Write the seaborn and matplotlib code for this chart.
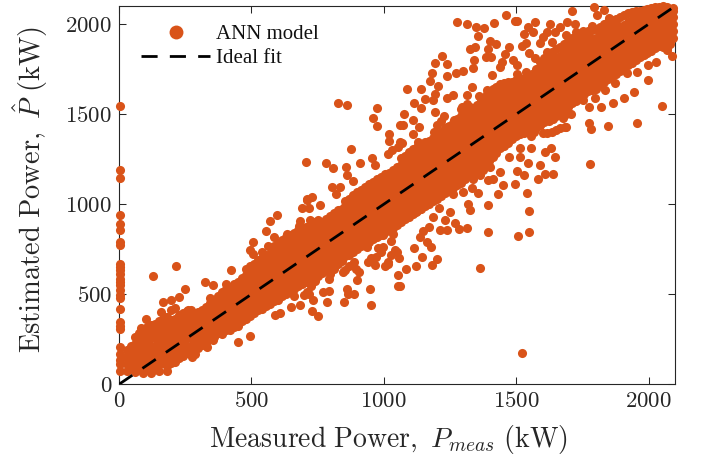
import numpy as np
import matplotlib
matplotlib.use("Agg")
import matplotlib.pyplot as plt
from matplotlib.lines import Line2D
from matplotlib.ticker import FuncFormatter
import seaborn as sns

# Measured / estimated power in kW
core_x = [30,60,90,120,150,180,210,240,270,300,330,360,390,420,450,480,510,540,570,600,
          630,660,690,720,750,780,810,840,870,900,930,960,990,1020,1050,1080,1110,1140,1170,1200,
          1230,1260,1290,1320,1350,1380,1410,1440,1470,1500,1530,1560,1590,1620,1650,1680,1710,1740,1770,1800,
          1830,1860,1890,1920,1950,1980,2010,2040,2070,2090]
core_y = [
 [75,110,150,190],
 [70,105,145,185,225,265],
 [65,100,140,180,220,260,300],
 [60,95,135,175,215,255,295,330],
 [75,115,155,195,235,275,315,350],
 [100,140,180,220,260,300,340,375],
 [125,165,205,245,285,325,365],
 [155,195,235,275,315,355,395],
 [175,215,255,295,335,375,410],
 [200,240,280,320,360,400],
 [230,270,310,350,390,430],
 [265,305,345,385,425,465],
 [280,320,360,400,440,480,515],
 [300,340,380,420,460,500,540],
 [325,365,405,445,485,525,570],
 [365,405,445,485,525,565,605,640],
 [395,435,475,515,555,595,635,670],
 [420,460,500,540,580,620,660,700],
 [445,485,525,565,605,645,685,725],
 [470,510,550,590,630,670,710,750,785],
 [500,540,580,620,660,700,740,780,815],
 [530,570,610,650,690,730,770,810,840],
 [555,595,635,675,715,755,795,835,865],
 [580,620,660,700,740,780,820,860,885],
 [600,640,680,720,760,800,840,880,910],
 [635,675,715,755,795,835,875,915],
 [670,710,750,790,830,870,910,950],
 [695,735,775,815,855,895,935,975],
 [720,760,800,840,880,920,960,1000,1030],
 [750,790,830,870,910,950,990,1030,1065],
 [775,815,855,895,935,975,1015,1055,1095],
 [805,845,885,925,965,1005,1045,1085,1125],
 [830,870,910,950,990,1030,1070,1110,1150],
 [855,895,935,975,1015,1055,1095,1135,1175],
 [885,925,965,1005,1045,1085,1125,1165,1205],
 [915,955,995,1035,1075,1115,1155,1195,1235,1270],
 [945,985,1025,1065,1105,1145,1185,1225,1265,1305],
 [975,1015,1055,1095,1135,1175,1215,1255,1295,1330],
 [1000,1040,1080,1120,1160,1200,1240,1280,1320,1350],
 [1030,1070,1110,1150,1190,1230,1270,1310,1350,1380],
 [1060,1100,1140,1180,1220,1260,1300,1340,1380,1420],
 [1090,1130,1170,1210,1250,1290,1330,1370,1410,1450],
 [1120,1160,1200,1240,1280,1320,1360,1400,1440,1490],
 [1160,1200,1240,1280,1320,1360,1400,1440,1480,1520],
 [1190,1230,1270,1310,1350,1390,1430,1470,1510,1550],
 [1220,1260,1300,1340,1380,1420,1460,1500,1540,1590],
 [1260,1300,1340,1380,1420,1460,1500,1540,1580,1630],
 [1310,1350,1390,1430,1470,1510,1550,1590,1630,1665],
 [1340,1380,1420,1460,1500,1540,1580,1620,1680],
 [1380,1420,1460,1500,1540,1580,1620,1660,1690],
 [1395,1435,1475,1515,1555,1595,1635,1675,1700],
 [1415,1455,1495,1535,1575,1615,1655,1695,1720],
 [1440,1480,1520,1560,1600,1640,1680,1720,1760,1790],
 [1470,1510,1550,1590,1630,1670,1710,1750,1790,1830],
 [1490,1530,1570,1610,1650,1690,1730,1770,1810,1860],
 [1520,1560,1600,1640,1680,1720,1760,1800,1840,1890],
 [1560,1600,1640,1680,1720,1760,1800,1840,1880,1920],
 [1590,1630,1670,1710,1750,1790,1830,1870,1910,1940],
 [1630,1670,1710,1750,1790,1830,1870,1910,1950,1960],
 [1640,1680,1720,1760,1800,1840,1880,1920,1970],
 [1680,1720,1760,1800,1840,1880,1920,1960,2000],
 [1710,1750,1790,1830,1870,1910,1950,1990,2020],
 [1740,1780,1820,1860,1900,1940,1980,2040],
 [1770,1810,1850,1890,1930,1970,2010,2060],
 [1800,1840,1880,1920,1960,2000,2040,2070],
 [1830,1870,1910,1950,1990,2030,2080],
 [1850,1890,1930,1970,2010,2050,2090],
 [1880,1920,1960,2000,2040,2095],
 [1860,1900,1940,1980,2020,2060,2095],
 [1920,1960,2000,2040,2070,2090],
]

fill_x = [45,75,105,135,165,195,225,255,285,315,345,375,405,435,465,495,525,555,585,615,
          645,675,705,735,765,795,825,855,885,915,945,975,1005,1035,1065,1095,1125,1155,1185,1215,
          1245,1275,1305,1335,1365,1395,1425,1455,1485,1515,1545,1575,1605,1635,1665,1695,1725,1755,1785,1815,
          1845,1875,1905,1935,1965,1995,2025,2055,2080]
fill_y = [
 [90,130,170,210],
 [85,125,165,205,245,285],
 [80,120,160,200,240,280,320],
 [95,135,175,215,255,295,335],
 [120,160,200,240,280,320,365],
 [120,160,200,240,280,320,355],
 [145,185,225,265,305,345,385],
 [175,215,255,295,335,375,405],
 [195,235,275,315,355,395],
 [220,260,300,340,380,415],
 [250,290,330,370,410,450],
 [285,325,365,405,445,490],
 [300,340,380,420,460,500,530],
 [320,360,400,440,480,520,555],
 [350,390,430,470,510,550,590],
 [380,420,460,500,540,580,620,655],
 [410,450,490,530,570,610,650,690],
 [435,475,515,555,595,635,675,715],
 [460,500,540,580,620,660,700,740,770],
 [490,530,570,610,650,690,730,770,800],
 [515,555,595,635,675,715,755,795,830],
 [545,585,625,665,705,745,785,825,855],
 [570,610,650,690,730,770,810,850,875],
 [590,630,670,710,750,790,830,870,900],
 [620,660,700,740,780,820,860,900],
 [655,695,735,775,815,855,895,935],
 [685,725,765,805,845,885,925,965],
 [710,750,790,830,870,910,950,990,1020],
 [735,775,815,855,895,935,975,1015,1050],
 [765,805,845,885,925,965,1005,1045,1080],
 [790,830,870,910,950,990,1030,1070,1110],
 [820,860,900,940,980,1020,1060,1100,1140],
 [845,885,925,965,1005,1045,1085,1125,1165],
 [870,910,950,990,1030,1070,1110,1150,1190],
 [900,940,980,1020,1060,1100,1140,1180,1220,1255],
 [930,970,1010,1050,1090,1130,1170,1210,1250,1290],
 [960,1000,1040,1080,1120,1160,1200,1240,1280,1315],
 [990,1030,1070,1110,1150,1190,1230,1270,1310,1345],
 [1015,1055,1095,1135,1175,1215,1255,1295,1335,1370],
 [1045,1085,1125,1165,1205,1245,1285,1325,1365,1400],
 [1075,1115,1155,1195,1235,1275,1315,1355,1395,1435],
 [1105,1145,1185,1225,1265,1305,1345,1385,1425,1470],
 [1140,1180,1220,1260,1300,1340,1380,1420,1460,1505],
 [1175,1215,1255,1295,1335,1375,1415,1455,1495,1535],
 [1205,1245,1285,1325,1365,1405,1445,1485,1525,1570],
 [1240,1280,1320,1360,1400,1440,1480,1520,1560,1610],
 [1285,1325,1365,1405,1445,1485,1525,1565,1605,1650],
 [1325,1365,1405,1445,1485,1525,1565,1605,1645,1675],
 [1360,1400,1440,1480,1520,1560,1600,1640,1680],
 [1390,1430,1470,1510,1550,1590,1630,1670,1695],
 [1405,1445,1485,1525,1565,1605,1645,1685,1710],
 [1430,1470,1510,1550,1590,1630,1670,1710,1750],
 [1455,1495,1535,1575,1615,1655,1695,1735,1775,1810],
 [1480,1520,1560,1600,1640,1680,1720,1760,1800,1845],
 [1505,1545,1585,1625,1665,1705,1745,1785,1825,1875],
 [1540,1580,1620,1660,1700,1740,1780,1820,1860,1905],
 [1575,1615,1655,1695,1735,1775,1815,1855,1895,1930],
 [1610,1650,1690,1730,1770,1810,1850,1890,1930,1950],
 [1635,1675,1715,1755,1795,1835,1875,1915,1965],
 [1660,1700,1740,1780,1820,1860,1900,1940,1985],
 [1695,1735,1775,1815,1855,1895,1935,1975,2010],
 [1725,1765,1805,1845,1885,1925,1965,2005,2030],
 [1755,1795,1835,1875,1915,1955,1995,2050],
 [1785,1825,1865,1905,1945,1985,2025,2065],
 [1815,1855,1895,1935,1975,2015,2060,2075],
 [1840,1880,1920,1960,2000,2040,2085],
 [1865,1905,1945,1985,2025,2065,2095],
 [1870,1910,1950,1990,2030,2070,2098],
 [1890,1930,1970,2010,2050,2085],
]

# clumps along the edges of the main band
edge_x = [1390,1412,1435,1460,1485,1400,1425,1450,1475,1290,1312,1335,1360,1300,1325,1350,
          1190,1215,1240,1265,1285,1200,1225,1250,1275,1670,1695,1720,1745,1765,1680,1705,1730,1755,1690,1715,1740,
          1540,1568,1595,1622,1650,1555,1582,1610,1638,
          1565,1590,1615,1640,1665,1688,1575,1600,1625,1650,1675,
          685,710,735,760,785,808,695,722,748,775,
          345,368,390,412,430,355,380,402,
          158,185,212,240,262,280,170,198,225,252,
          750,780,810,840,870,905,765,795,825,855,888,
          635,660,685,710,740,648,672,698,725,
          938,965,990,1015,1040,1058,950,978,1003,1028,
          1075,1105,1135,1165,1085,1120,1150]
edge_y = [1610,1640,1600,1650,1625,1578,1590,1612,1580,1530,1558,1510,1552,1505,1540,1520,
          1400,1462,1430,1465,1395,1440,1395,1420,1450,1790,1860,1905,1830,1880,1770,1820,1780,1850,1895,1860,1905,
          1690,1724,1660,1715,1680,1655,1700,1725,1695,
          1400,1440,1395,1470,1425,1500,1425,1395,1462,1410,1480,
          905,835,880,825,900,860,865,910,850,885,
          480,445,500,420,470,415,460,490,
          400,360,425,375,415,390,375,410,360,395,
          620,670,640,685,655,625,660,615,670,635,680,
          550,490,570,510,575,525,580,495,545,
          760,660,735,670,745,700,700,755,655,720,
          960,1010,975,1030,1000,955,1015]

axis_y = [1546,1189,1144,939,892,855,790,772,670,650,633,610,587,570,550,525,494,480,420,
          346,325,309,207,170,133,114,72]

upper_x = [1277,1313,1348,1379,1415,1354,1462,1494,1503,1710,1794,1830,1803,1850,1784,1572,1545,1563,1528,1627,
           1664,1645,1614,1601,1589,1692,1721,1687,1725,1752,1633,1538,1523,1473,1457,1400,1424,1394,1385,1403,
           1343,1325,1220,1193,1238,1340,1338,1299,1271,1180,1240,1174,1409,1438,1444,1486,1503,1546,1570,1583,
           1614,1620,1538,1501,1331,1088,1141,1205,1193,1155,1186,1262,1239,1112,1140,1074,1111,1073,1192,1226,
           1312,1359,1390,1293,1133,1108,1070,1130,
           130,216,248,226,325,421,356,167,195,102,84,404,555,570,598,678,507,494,507,541,563,585,633,689,718,759,708,
           825,859,975,960,975,1021,1018,877,706,780,809,857,862,910,954,966,1016,1029,803,834,821,708,728,884,1060,1060,1054]
upper_y = [2011,1998,1981,1976,2003,1935,2048,2018,2016,2072,2092,2077,2050,2031,1989,2011,1985,1953,1942,2000,
           1985,1957,1957,1929,1892,2013,2000,1939,1957,1963,1901,1892,1879,1874,1833,1907,1890,1864,1818,1818,
           1874,1859,1822,1785,1777,1800,1755,1740,1729,1729,1709,1683,1718,1763,1790,1803,1770,1840,1809,1748,
           1846,1790,1735,1722,1653,1637,1637,1655,1614,1585,1577,1607,1587,1561,1533,1498,1466,1442,1511,1490,
           1605,1600,1633,1540,1429,1388,1337,1346,
           602,659,531,483,566,637,550,457,466,364,313,559,852,907,939,881,792,748,726,737,766,815,837,981,976,994,1022,
           1564,1548,1533,1481,1433,1390,1353,1305,1235,1231,1201,1207,1161,1226,1257,1216,1276,1300,1096,1096,1059,1027,1040,1127,1346,1439,1318]

lower_x = [2048,1957,1998,1944,1907,1866,1819,1775,1774,1783,1847,1779,1683,1634,1557,1513,1557,1629,1608,1645,
           1513,1545,1591,1608,1639,1581,1528,1503,1494,1541,1450,1431,1438,1400,1375,1362,1394,1413,1337,1331,
           1356,1299,1262,1473,2089,2029,1998,1956,1916,2067,1835,1872,1796,1752,1708,1689,
           1522,1364,1549,1547,1508,1393,1393,1325,1318,1315,1284,1240,1211,1201,1182,1142,1122,1082,1060,1179,1164,1112,1136,1171,1268,1230,1249,1209,1186,1148,
           494,448,333,287,274,180,356,589,608,648,683,728,753,718,733,784,849,771,793,859,865,888,947,952,897,894,847,794,1052,1054,941,972,1016,935,998,1048,1025,998,1035]
lower_y = [1544,1451,1688,1624,1592,1559,1537,1537,1450,1416,1433,1222,1429,1401,1377,1309,1313,1309,1288,1263,
           1263,1231,1216,1168,1168,1138,1164,1185,1114,1064,1105,1059,1179,1207,1188,1161,1133,1142,1142,1087,
           1063,1068,1059,1263,1822,1790,1772,1735,1729,1855,1633,1670,1587,1577,1503,1429,
           172,644,961,846,826,848,996,966,1003,865,861,859,859,696,665,709,655,639,544,761,790,759,818,874,896,911,957,976,929,852,
           266,233,205,166,152,72,244,383,396,427,439,405,381,503,466,457,457,513,518,531,500,503,527,442,577,642,624,587,605,544,679,707,679,772,763,735,796,828,837]

ideal_fit = [0, 2100]
x_ticks = [0, 500, 1000, 1500, 2000]
y_ticks = [0, 500, 1000, 1500, 2000]
series_labels = ["ANN model", "Ideal fit"]

ORANGE = "#D95319"
DARK = "#262626"

sns.set_style("white")
plt.rcParams["font.family"] = ["Liberation Serif", "DejaVu Serif"]
plt.rcParams["mathtext.fontset"] = "cm"

x_all = np.concatenate([np.repeat(core_x, [len(c) for c in core_y]),
                        np.repeat(fill_x, [len(c) for c in fill_y]),
                        edge_x, np.zeros(len(axis_y)) + 2, upper_x, lower_x])
y_all = np.concatenate([np.concatenate(core_y), np.concatenate(fill_y), edge_y, axis_y, upper_y, lower_y])

fig = plt.figure(figsize=(7.02, 4.57), dpi=100)
ax = fig.add_axes([119/702, 1 - 384.3/457, 556.3/702, 378.3/457])

sns.scatterplot(x=x_all, y=y_all, ax=ax, color=ORANGE, s=43, linewidth=0,
                clip_on=False, zorder=3, legend=False)
sns.lineplot(x=ideal_fit, y=ideal_fit, ax=ax, color="black", linewidth=2.0,
             linestyle=(0, (5.8, 4.4)), errorbar=None, zorder=4, legend=False)

ax.set_xlim(0, 2100)
ax.set_ylim(0, 2100)
ax.set_xticks(x_ticks)
ax.set_yticks(y_ticks)
tick_fmt = FuncFormatter(lambda v, _: r"$\mathrm{%d}$" % v)
ax.xaxis.set_major_formatter(tick_fmt)
ax.yaxis.set_major_formatter(tick_fmt)
ax.tick_params(direction="in", length=4.7, width=0.75, top=True, right=True,
               bottom=True, left=True, labelsize=16.5, colors=DARK, pad=5)
for s in ax.spines.values():
    s.set_color(DARK)
    s.set_linewidth(0.8)
    s.set_visible(True)
    s.set_zorder(2)

ax.set_xlabel(r"$\mathrm{Measured\ Power,}\ P_{meas}\ \mathrm{(kW)}$", fontsize=20, color=DARK, labelpad=8, x=0.485)
ax.set_ylabel(r"$\mathrm{Estimated\ Power,}\ \hat{P}\ \mathrm{(kW)}$", fontsize=20.5, color=DARK, labelpad=11, y=0.515)

handles = [Line2D([], [], marker="o", linestyle="none", color=ORANGE, markersize=10, markeredgewidth=0),
           Line2D([], [], color="black", linewidth=2.0, linestyle=(0, (5.8, 4.4)))]
leg = ax.legend(handles, series_labels, loc="upper left", bbox_to_anchor=(0.01, 0.995), frameon=False,
                fontsize=15, handlelength=3.3, handletextpad=0.3, labelspacing=0.22, borderpad=0.3)
for t in leg.get_texts():
    t.set_color("#111111")

fig.savefig("out.png", dpi=100)
